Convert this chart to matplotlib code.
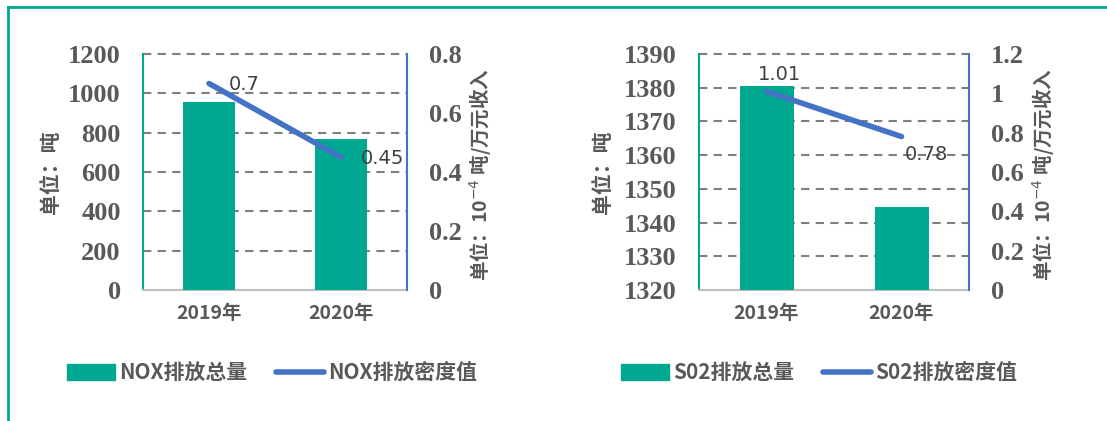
import matplotlib.pyplot as plt
from matplotlib.patches import Patch
from matplotlib.lines import Line2D

years = ['2019年', '2020年']
nox_total = [955, 768]
nox_density = [0.7, 0.45]
so2_total = [1380.5, 1344.7]
so2_density = [1.01, 0.78]

TEAL = '#00A891'
BLUE = '#4472C4'
GRAY = '#595959'
CJK = ['Noto Sans CJK SC', 'DejaVu Sans']
plt.rcParams['font.family'] = CJK

fig = plt.figure(figsize=(11.07, 4.21), dpi=100)

# outer frame lines
fig.add_artist(Line2D([8/1107, 1], [1-7/421, 1-7/421], color=TEAL, lw=2))
fig.add_artist(Line2D([8/1107, 8/1107], [0, 1-7/421], color=TEAL, lw=2))


def panel(left, width, total, density, ylim, yticks, y2lim, y2ticks, y2labels,
          name, lab_off, ylab_x, y2lab_x, leg_x):
    ax = fig.add_axes([left, 0.3112, width, 0.5606])
    x = [0, 1]
    ax.bar(x, [t - ylim[0] for t in total], bottom=ylim[0], width=0.4, color=TEAL, zorder=3)
    ax.set_xlim(-0.5, 1.5)
    ax.set_ylim(*ylim)
    ax.set_yticks(yticks)
    ax.set_yticklabels([str(t) for t in yticks], family='Liberation Serif',
                       fontweight='bold', fontsize=19, color=GRAY)
    ax.set_xticks(x)
    ax.set_xticklabels(years, fontweight='bold', fontsize=14, color=GRAY)
    ax.tick_params(axis='y', length=0, pad=16)
    ax.tick_params(axis='x', length=0, pad=10)
    for t in yticks[1:]:
        ax.axhline(t, ls=(0, (4, 3)), color='#7F7F7F', lw=1.5, zorder=1, clip_on=False)
    ax.spines['top'].set_visible(False)
    ax.spines['left'].set_color(TEAL)
    ax.spines['left'].set_linewidth(1.5)
    ax.spines['right'].set_visible(False)
    ax.spines['bottom'].set_color('#BFBFBF')
    ax.spines['bottom'].set_linewidth(1.5)

    ax2 = ax.twinx()
    ax2.plot(x, density, color=BLUE, lw=4, solid_capstyle='round', zorder=4)
    ax2.set_ylim(*y2lim)
    ax2.set_yticks(y2ticks)
    ax2.set_yticklabels(y2labels, family='Liberation Serif',
                        fontweight='bold', fontsize=19, color=GRAY)
    ax2.tick_params(axis='y', length=0, pad=16)
    for s in ['top', 'left', 'bottom']:
        ax2.spines[s].set_visible(False)
    ax2.spines['right'].set_color(BLUE)
    ax2.spines['right'].set_linewidth(1.5)
    for xi, d, off in zip(x, density, lab_off):
        ax2.annotate(f'{d:g}', (xi, d), xytext=off, textcoords='offset points',
                     fontsize=14, color='#404040', family=['DejaVu Sans'],
                     ha='left', va='center')

    fig.text(ylab_x, 0.59, '单位：吨', rotation=90, fontsize=15, fontweight='bold',
             color=GRAY, ha='center', va='center')
    fig.text(y2lab_x, 0.585, '单位：10$^{-4}$ 吨/万元收入', rotation=90, fontsize=14,
             fontweight='bold', color=GRAY, ha='center', va='center')

    handles = [Patch(color=TEAL), Line2D([], [], color=BLUE, lw=4, solid_capstyle='round')]
    fig.legend(handles, [name + '排放总量', name + '排放密度值'], loc='center left',
               bbox_to_anchor=(leg_x, 0.114), ncol=2, frameon=False,
               prop={'size': 15, 'weight': 'bold', 'family': CJK},
               labelcolor=GRAY, handlelength=2.3, handletextpad=0.2,
               columnspacing=1.4, handleheight=0.8)
    return ax


panel(143/1107, 264/1107, nox_total, nox_density, (0, 1200),
      list(range(0, 1201, 200)), (0, 0.8), [0, 0.2, 0.4, 0.6, 0.8],
      ['0', '0.2', '0.4', '0.6', '0.8'], 'NOX',
      [(14, -1), (14, -1)], 50/1107, 480/1107, 48/1107)

panel(699/1107, 270/1107, so2_total, so2_density, (1320, 1390),
      list(range(1320, 1391, 10)), (0, 1.2), [0, 0.2, 0.4, 0.6, 0.8, 1.0, 1.2],
      ['0', '0.2', '0.4', '0.6', '0.8', '1', '1.2'], 'S02',
      [(-6, 12), (2, -13)], 603/1107, 1043/1107, 602/1107)

fig.savefig('out.png', dpi=100)
